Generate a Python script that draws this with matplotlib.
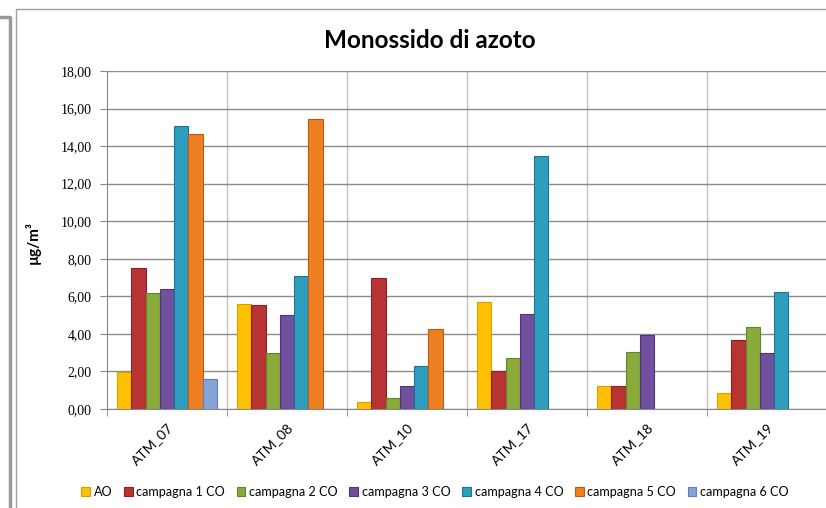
'''
Monossido di azoto - grouped bars per station
'''
import numpy as np
import matplotlib.pyplot as plt
from matplotlib.lines import Line2D
from matplotlib.ticker import MultipleLocator, FuncFormatter

STATIONS = ['ATM_07', 'ATM_08', 'ATM_10', 'ATM_17', 'ATM_18', 'ATM_19']
SERIES = ['AO', 'campagna 1 CO', 'campagna 2 CO', 'campagna 3 CO',
          'campagna 4 CO', 'campagna 5 CO', 'campagna 6 CO']

AO = [1.97, 5.60, 0.37, 5.70, 1.20, 0.85]
C1 = [7.52, 5.55, 6.98, 2.00, 1.20, 3.65]
C2 = [6.17, 2.97, 0.60, 2.70, 3.05, 4.35]
C3 = [6.38, 5.00, 1.20, 5.05, 3.95, 2.97]
C4 = [15.08, 7.10, 2.30, 13.48, None, 6.25]
C5 = [14.62, 15.42, 4.25, None, None, None]
C6 = [1.62, None, None, None, None, None]

COLORS = ['#FFC000', '#B83333', '#8AAA3C', '#7150A0', '#2E9EBF',
          '#EE7F22', '#85A3D6']
EDGES = ['#D9A000', '#8A2222', '#66822A', '#4E3675', '#1C7490',
         '#B85C10', '#5F7FB5']

FONT = 'Lato'

fig = plt.figure(figsize=(8.26, 5.08), dpi=100)
ax = fig.add_axes([107 / 826, 1 - 409 / 508, 720 / 826, 338 / 508])

data = [AO, C1, C2, C3, C4, C5, C6]
x = np.arange(len(STATIONS))
w = 1 / 8.4
for i, (vals, name) in enumerate(zip(data, SERIES)):
    h = np.array([np.nan if v is None else v for v in vals], dtype=float)
    ax.bar(x + (i - 3) * w, h, width=w, color=COLORS[i], edgecolor=EDGES[i],
           linewidth=0.8, label=name, zorder=3)

ax.set_xlim(-0.5, len(STATIONS) - 0.5)
ax.set_ylim(0, 18)
ax.yaxis.set_major_locator(MultipleLocator(2))
ax.yaxis.set_major_formatter(FuncFormatter(lambda v, p: '{:.2f}'.format(v).replace('.', ',')))

# horizontal grid
ax.grid(axis='y', color='#8C8C8C', linewidth=1, zorder=0)
# vertical separators between categories
for b in np.arange(0.5, len(STATIONS) - 0.5, 1):
    ax.axvline(b, color='#C4C4C4', linewidth=1, zorder=0)

ax.set_xticks(x)
ax.set_xticklabels(STATIONS, rotation=45, ha='right', va='top',
                   rotation_mode='anchor', fontsize=10, family=FONT)
ax.tick_params(axis='x', length=0, pad=9)
ax.set_xticks(np.arange(-0.5, len(STATIONS), 1), minor=True)
ax.tick_params(axis='x', which='minor', length=5, color='#888888')
ax.tick_params(axis='y', length=5, color='#888888', labelsize=10, pad=6)
for lab in ax.get_yticklabels():
    lab.set_family('Liberation Serif')

for s in ['top', 'right']:
    ax.spines[s].set_visible(False)
ax.spines['left'].set_color('#888888')
ax.spines['bottom'].set_color('#888888')

fig.text(33 / 826, 1 - 243 / 508, 'µg/m³', rotation=90, ha='center',
         va='center', fontsize=11, fontweight='bold', family=FONT)
fig.text(430 / 826, 1 - 40 / 508, 'Monossido di azoto', ha='center',
         va='center', fontsize=17.5, fontweight='bold', family=FONT)

handles, labels = ax.get_legend_handles_labels()
fig.legend(handles, labels, loc='center', ncol=7,
           bbox_to_anchor=(435 / 826, 1 - 492 / 508), frameon=False,
           handlelength=0.7, handleheight=0.7, handletextpad=0.3,
           columnspacing=0.9, prop={'family': FONT, 'size': 9.1})

# chart border and neighbouring panel edge
fig.add_artist(Line2D([16 / 826, 16 / 826, 1], [0, 1 - 9 / 508, 1 - 9 / 508],
                      color='#A0A0A0', linewidth=1))
fig.add_artist(Line2D([0, 10 / 826, 10 / 826], [1 - 17 / 508, 1 - 17 / 508, 0],
                      color='#9A9A9A', linewidth=2.5))

fig.savefig('out.png', dpi=100)
